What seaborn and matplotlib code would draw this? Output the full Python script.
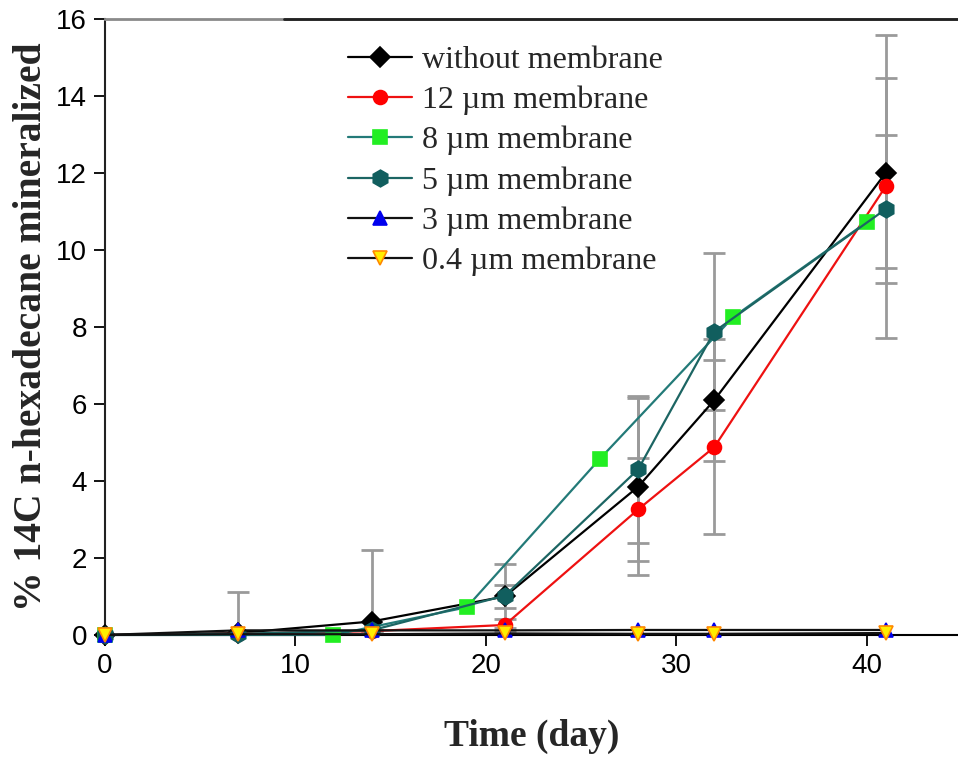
import matplotlib
matplotlib.use("Agg")
import matplotlib.pyplot as plt
import seaborn as sns
import numpy as np
import pandas as pd

# ---- data ----
days_std = [0, 7, 14, 21, 28, 32, 41]
days_8um = [0, 12, 19, 26, 33, 40]

without_y = [0.0, 0.05, 0.35, 1.0, 3.85, 6.1, 12.0]
without_err = [0.0, 1.07, 1.87, 0.3, 2.3, 1.58, 2.47]

m12_y = [0.0, 0.03, 0.1, 0.26, 3.26, 4.88, 11.65]
m12_err = [0.0, 0.0, 0.0, 0.15, 1.35, 2.27, 3.93]

m8_y = [0.0, 0.0, 0.72, 4.58, 8.26, 10.72]

m5_y = [0.0, 0.03, 0.12, 1.02, 4.3, 7.88, 11.06]
m5_err = [0.0, 0.0, 0.0, 0.83, 1.9, 2.03, 1.92]

m3_y = [0.0, 0.12, 0.12, 0.12, 0.13, 0.13, 0.13]
m04_y = [0.0, 0.02, 0.02, 0.04, 0.03, 0.03, 0.05]

labels = ["without membrane", "12 \u00b5m membrane", "8 \u00b5m membrane",
          "5 \u00b5m membrane", "3 \u00b5m membrane", "0.4 \u00b5m membrane"]

xticks = [0, 10, 20, 30, 40]
yticks = [0, 2, 4, 6, 8, 10, 12, 14, 16]

# ---- figure ----
sns.set_style("white")
plt.rcParams['font.family'] = ['Liberation Sans', 'DejaVu Sans']

fig = plt.figure(figsize=(9.58, 7.6), dpi=100)
ax = fig.add_axes([0.1096, 0.1645, 0.8904, 0.8105])

err_kw = dict(fmt='none', ecolor='#9a9a9a', elinewidth=2, capsize=8, capthick=2, zorder=1)
ax.errorbar(days_std, without_y, yerr=without_err, **err_kw)
ax.errorbar(days_std, m12_y, yerr=m12_err, **err_kw)
ax.errorbar(days_std, m5_y, yerr=m5_err, **err_kw)

series = [
    (days_std, without_y, dict(color='black', marker='D', ms=10, mfc='black', mec='black')),
    (days_std, m12_y, dict(color='#ee1111', marker='o', ms=10, mfc='#ff0000', mec='#ff0000')),
    (days_8um, m8_y, dict(color='#237a78', marker='s', ms=10, mfc='#22ee22', mec='#22ee22')),
    (days_std, m5_y, dict(color='#1c6563', marker='h', ms=12, mfc='#115e5e', mec='#115e5e')),
    (days_std, m3_y, dict(color='#111111', marker='^', ms=10, mfc='#0000ee', mec='#0000ee')),
    (days_std, m04_y, dict(color='#111111', marker='v', ms=10, mfc='#ffee00', mec='#ff8800')),
]

for i, ((xs, ys, st), lab) in enumerate(zip(series, labels)):
    df = pd.DataFrame({"x": xs, "y": ys})
    sns.lineplot(data=df, x="x", y="y", ax=ax, label=lab, linewidth=1.6,
                 markeredgewidth=1.2, clip_on=False, zorder=3 + i, **st)

ax.set_xlim(0, 44.8)
ax.set_ylim(0, 16)
ax.set_xticks(xticks)
ax.set_yticks(yticks)
ax.tick_params(axis='both', direction='out', length=8, width=1.3, colors='black',
               labelsize=20, pad=5, left=True, bottom=True)

ax.spines['right'].set_visible(False)
ax.spines['top'].set_color('#8a8a8a')
ax.spines['top'].set_linewidth(2)
ax.spines['left'].set_color('#222222')
ax.spines['left'].set_linewidth(1.5)
ax.spines['bottom'].set_color('black')
ax.spines['bottom'].set_linewidth(1.5)
ax.plot([0.21, 1.0], [1.0, 1.0], transform=ax.transAxes, color='#222222', lw=2,
        clip_on=False, zorder=10)

ax.set_xlabel("Time (day)", fontsize=27, fontweight='bold',
              family=['Liberation Serif', 'DejaVu Serif'], labelpad=29)
ax.set_ylabel("% 14C n-hexadecane mineralized", fontsize=28.5, fontweight='bold',
              family=['Liberation Serif', 'DejaVu Serif'], labelpad=4)

leg = ax.legend(loc='upper left', bbox_to_anchor=(0.27, 0.978), frameon=False,
                prop={'family': ['Liberation Serif', 'DejaVu Serif'], 'size': 23},
                handlelength=2.0, handletextpad=0.3, labelspacing=0.34, borderaxespad=0)

fig.savefig("out.png", dpi=100)
